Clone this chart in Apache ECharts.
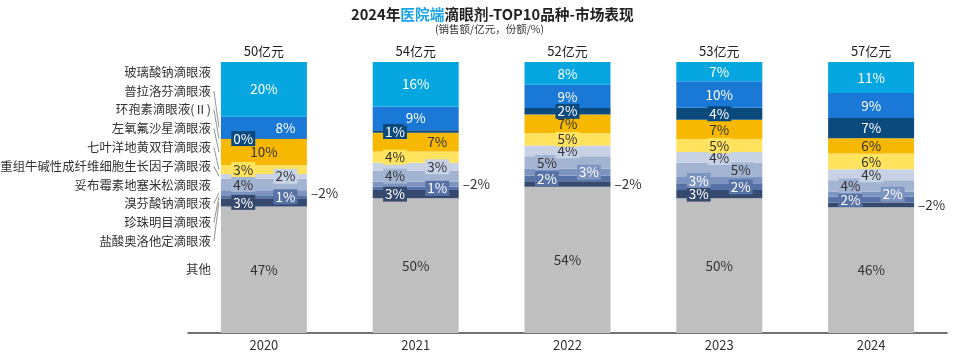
<!DOCTYPE html>
<html>
<head>
<meta charset="utf-8">
<script src="https://cdn.jsdelivr.net/npm/echarts@6/dist/echarts.min.js"></script>
<style>
html,body{margin:0;padding:0;background:#fff;}
#main{width:960px;height:357px;}
</style>
</head>
<body>
<div id="main"></div>
<script>
// ---- data ----
const years = ['2020', '2021', '2022', '2023', '2024'];
const totals = [50, 54, 52, 53, 57];
const names = [
  '玻璃酸钠滴眼液', '普拉洛芬滴眼液', '环孢素滴眼液(Ⅱ)', '左氧氟沙星滴眼液',
  '七叶洋地黄双苷滴眼液', '重组牛碱性成纤维细胞生长因子滴眼液', '妥布霉素地塞米松滴眼液',
  '溴芬酸钠滴眼液', '珍珠明目滴眼液', '盐酸奥洛他定滴眼液', '其他'
];
const sodiumHyaluronate = [20.2, 16.4, 8.4, 7.1, 11.4];
const pranoprofen = [7.9, 8.8, 8.6, 9.8, 9.3];
const cyclosporine = [0.3, 0.9, 2.4, 4.4, 7.4];
const levofloxacin = [9.6, 6.9, 6.8, 7.2, 5.7];
const digitalisGlycoside = [3.3, 4.2, 4.6, 4.7, 5.8];
const bfgf = [1.8, 2.9, 4.0, 4.0, 4.0];
const tobraDexa = [4.2, 4.1, 4.6, 5.2, 4.3];
const bromfenac = [1.9, 1.8, 2.6, 2.6, 1.8];
const pearlMingmu = [1.1, 1.2, 2.0, 2.2, 2.1];
const olopatadine = [3.0, 3.1, 2.0, 3.1, 1.8];
const others = [46.7, 49.7, 54.0, 49.7, 46.4];

// top-to-bottom order (same as names)
const seriesValues = [sodiumHyaluronate, pranoprofen, cyclosporine, levofloxacin,
  digitalisGlycoside, bfgf, tobraDexa, bromfenac, pearlMingmu, olopatadine, others];

// ---- styles / layout ----
const colors = ['#06a6e0', '#1a79d6', '#0b4a7c', '#f6b800', '#ffe35e', '#c8d2e5',
  '#a3b4d3', '#7d93c0', '#5672a6', '#354a6e', '#bfbfbf'];
const textColors = ['#fff', '#fff', '#fff', '#333', '#333', '#333', '#333', '#fff', '#fff', '#fff', '#333'];
// label placement per series per year: c=center, l=left, r=right, o=outside
const placement = [
  ['c','c','c','c','c'],
  ['r','c','c','c','c'],
  ['l','l','c','c','c'],
  ['c','r','c','c','c'],
  ['l','l','c','c','c'],
  ['r','r','c','c','c'],
  ['l','l','l','r','l'],
  ['o','o','r','l','r'],
  ['r','r','l','r','l'],
  ['l','l','o','l','o'],
  ['c','c','c','c','c']
];

const FONT = '"Noto Sans CJK SC", "Noto Sans", sans-serif';
const BAR_W = 86;

function labelFor(si, yi) {
  const p = placement[si][yi];
  const base = {
    show: true,
    fontSize: 13.5,
    fontFamily: FONT,
    color: textColors[si],
    formatter: (prm) => Math.round(prm.value) + '%'
  };
  if (p === 'o') {
    return Object.assign(base, {
      position: 'right', distance: 4, color: '#333', backgroundColor: 'transparent',
      formatter: (prm) => '–' + Math.round(prm.value) + '%'
    });
  }
  const pos = p === 'l' ? ['26%', '50%'] : p === 'r' ? ['75%', '50%'] : ['50%', '50%'];
  return Object.assign(base, {
    position: pos, align: 'center', verticalAlign: 'middle',
    backgroundColor: colors[si], padding: [0, 2, 0, 2], lineHeight: 15
  });
}

// build series bottom-up so that "其他" sits at the bottom of each stack
const series = [];
for (let si = seriesValues.length - 1; si >= 0; si--) {
  series.push({
    name: names[si],
    type: 'bar',
    stack: 'total',
    barWidth: BAR_W,
    itemStyle: { color: colors[si] },
    emphasis: { disabled: true },
    data: seriesValues[si].map((v, yi) => ({ value: v, label: labelFor(si, yi) }))
  });
}

series.push({
  name: '合计',
  type: 'bar',
  stack: 'total',
  barWidth: BAR_W,
  itemStyle: { color: 'transparent' },
  data: totals.map(() => 0),
  label: {
    show: true, position: 'top', distance: 4, fontSize: 13, fontFamily: FONT, color: '#222',
    formatter: (prm) => totals[prm.dataIndex] + '亿元'
  }
});

const chart = echarts.init(document.getElementById('main'), null, { renderer: 'canvas' });
chart.setOption({
  animation: false,
  backgroundColor: '#fff',
  title: [{
    text: '{a|2024年}{b|医院端}{a|滴眼剂-TOP10品种-市场表现}',
    left: 346, top: 2,
    textStyle: {
      rich: {
        a: { fontSize: 14.7, fontWeight: 'bold', color: '#222', fontFamily: FONT },
        b: { fontSize: 14.7, fontWeight: 'bold', color: '#1aa3e8', fontFamily: FONT }
      }
    }
  }, {
    text: '(销售额/亿元，份额/%)',
    left: 430, top: 19,
    textStyle: { fontSize: 10.5, fontWeight: 'normal', color: '#333', fontFamily: FONT }
  }],
  grid: { left: 188, right: 13, top: 62, bottom: 24, containLabel: false },
  xAxis: {
    type: 'category',
    data: years,
    axisLine: { show: true, lineStyle: { color: '#444', width: 1.5 } },
    axisTick: { show: false },
    axisLabel: { fontSize: 13, color: '#333', fontFamily: FONT, margin: 6 }
  },
  yAxis: {
    type: 'value', min: 0, max: 100, show: false, splitLine: { show: false }
  },
  series: series
});

// ---- left legend labels with leader lines to the 2020 bar ----
function drawLegend() {
  const graphics = [];
  const x0 = chart.convertToPixel({ gridIndex: 0 }, [0, 0]);
  const barLeft = x0[0] - BAR_W / 2;
  const textRight = barLeft - 10;
  const topPx = chart.convertToPixel({ gridIndex: 0 }, [0, 100])[1];
  const step = 18.8;
  let cumTop = 100;
  seriesValues.forEach((vals, si) => {
    const v = vals[0];
    const segTop = chart.convertToPixel({ gridIndex: 0 }, [0, cumTop])[1];
    const segBot = chart.convertToPixel({ gridIndex: 0 }, [0, cumTop - v])[1];
    cumTop -= v;
    const segMid = (segTop + segBot) / 2;
    const ly = si === seriesValues.length - 1 ? segMid : topPx + 10 + step * si;
    graphics.push({
      type: 'text',
      style: {
        x: textRight, y: ly, text: names[si], align: 'right', verticalAlign: 'middle',
        fontSize: 12.4, fontFamily: FONT, fill: '#333'
      }
    });
    if (ly < segTop - 1 || ly > segBot + 1) {
      graphics.push({
        type: 'line',
        shape: { x1: textRight + 3, y1: ly, x2: barLeft - 2, y2: segMid },
        style: { stroke: '#777', lineWidth: 0.8 }
      });
    }
  });
  chart.setOption({ graphic: graphics });
}
drawLegend();
</script>
</body>
</html>
